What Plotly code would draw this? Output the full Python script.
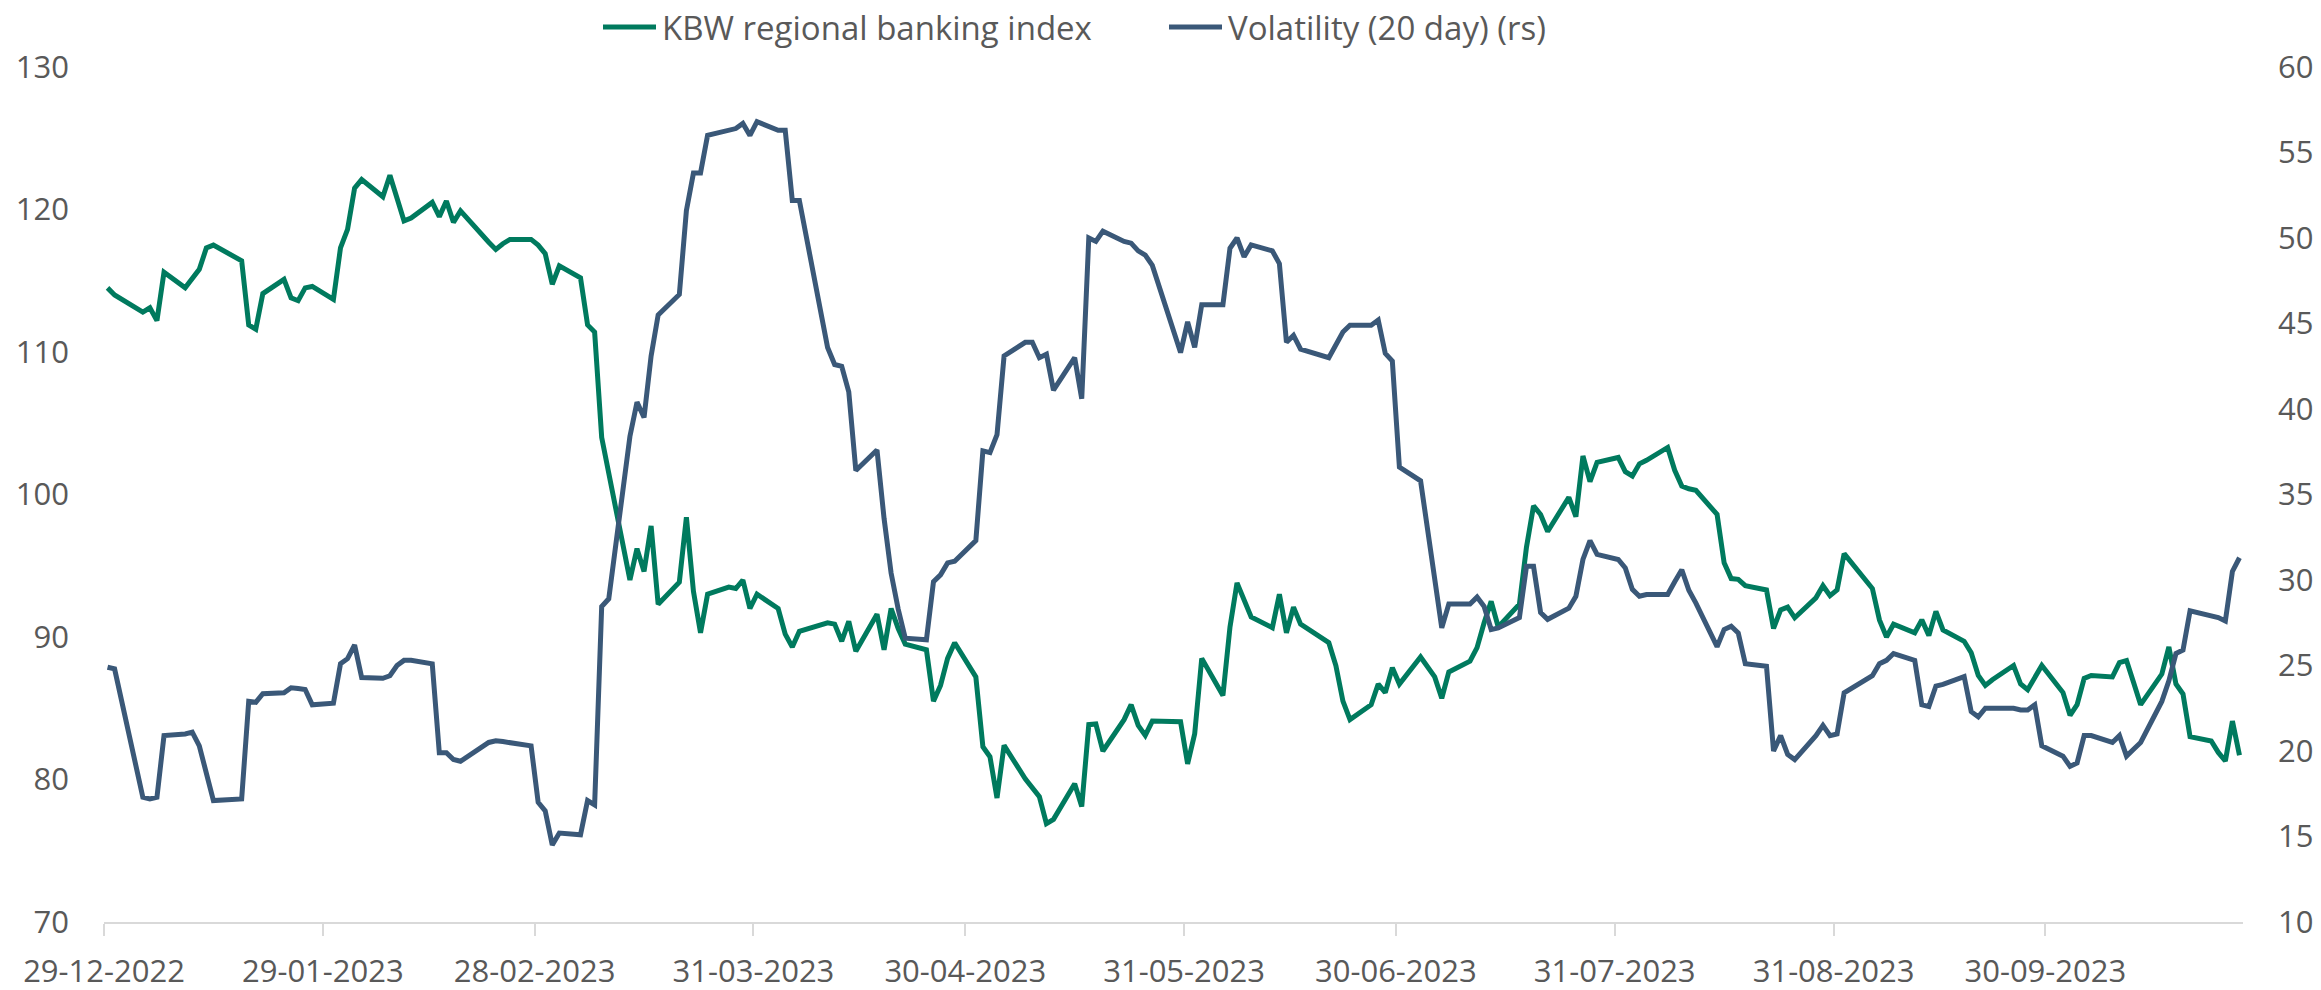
import plotly.graph_objects as go
import pandas as pd

# ---- data ----
dates = [
    # Dec 2022
    "2022-12-29", "2022-12-30",
    # Jan 2023
    "2023-01-03", "2023-01-04", "2023-01-05", "2023-01-06", "2023-01-09", "2023-01-10", "2023-01-11",
    "2023-01-12", "2023-01-13", "2023-01-17", "2023-01-18", "2023-01-19", "2023-01-20", "2023-01-23",
    "2023-01-24", "2023-01-25", "2023-01-26", "2023-01-27", "2023-01-30", "2023-01-31",
    # Feb
    "2023-02-01", "2023-02-02", "2023-02-03", "2023-02-06", "2023-02-07", "2023-02-08", "2023-02-09",
    "2023-02-10", "2023-02-13", "2023-02-14", "2023-02-15", "2023-02-16", "2023-02-17", "2023-02-21",
    "2023-02-22", "2023-02-23", "2023-02-24", "2023-02-27", "2023-02-28",
    # Mar
    "2023-03-01", "2023-03-02", "2023-03-03", "2023-03-06", "2023-03-07", "2023-03-08", "2023-03-09",
    "2023-03-10", "2023-03-13", "2023-03-14", "2023-03-15", "2023-03-16", "2023-03-17", "2023-03-20",
    "2023-03-21", "2023-03-22", "2023-03-23", "2023-03-24", "2023-03-27", "2023-03-28", "2023-03-29",
    "2023-03-30", "2023-03-31",
    # Apr
    "2023-04-03", "2023-04-04", "2023-04-05", "2023-04-06", "2023-04-10", "2023-04-11", "2023-04-12",
    "2023-04-13", "2023-04-14", "2023-04-17", "2023-04-18", "2023-04-19", "2023-04-20", "2023-04-21",
    "2023-04-24", "2023-04-25", "2023-04-26", "2023-04-27", "2023-04-28",
    # May
    "2023-05-01", "2023-05-02", "2023-05-03", "2023-05-04", "2023-05-05", "2023-05-08", "2023-05-09",
    "2023-05-10", "2023-05-11", "2023-05-12", "2023-05-15", "2023-05-16", "2023-05-17", "2023-05-18",
    "2023-05-19", "2023-05-22", "2023-05-23", "2023-05-24", "2023-05-25", "2023-05-26", "2023-05-30",
    "2023-05-31",
    # Jun
    "2023-06-01", "2023-06-02", "2023-06-05", "2023-06-06", "2023-06-07", "2023-06-08", "2023-06-09",
    "2023-06-12", "2023-06-13", "2023-06-14", "2023-06-15", "2023-06-16", "2023-06-20", "2023-06-21",
    "2023-06-22", "2023-06-23", "2023-06-26", "2023-06-27", "2023-06-28", "2023-06-29", "2023-06-30",
    # Jul
    "2023-07-03", "2023-07-05", "2023-07-06", "2023-07-07", "2023-07-10", "2023-07-11", "2023-07-12",
    "2023-07-13", "2023-07-14", "2023-07-17", "2023-07-18", "2023-07-19", "2023-07-20", "2023-07-21",
    "2023-07-24", "2023-07-25", "2023-07-26", "2023-07-27", "2023-07-28", "2023-07-31",
    # Aug
    "2023-08-01", "2023-08-02", "2023-08-03", "2023-08-04", "2023-08-07", "2023-08-08", "2023-08-09",
    "2023-08-10", "2023-08-11", "2023-08-14", "2023-08-15", "2023-08-16", "2023-08-17", "2023-08-18",
    "2023-08-21", "2023-08-22", "2023-08-23", "2023-08-24", "2023-08-25", "2023-08-28", "2023-08-29",
    "2023-08-30", "2023-08-31",
    # Sep
    "2023-09-01", "2023-09-05", "2023-09-06", "2023-09-07", "2023-09-08", "2023-09-11", "2023-09-12",
    "2023-09-13", "2023-09-14", "2023-09-15", "2023-09-18", "2023-09-19", "2023-09-20", "2023-09-21",
    "2023-09-22", "2023-09-25", "2023-09-26", "2023-09-27", "2023-09-28", "2023-09-29",
    # Oct
    "2023-10-02", "2023-10-03", "2023-10-04", "2023-10-05", "2023-10-06", "2023-10-09", "2023-10-10",
    "2023-10-11", "2023-10-12", "2023-10-13", "2023-10-16", "2023-10-17", "2023-10-18", "2023-10-19",
    "2023-10-20", "2023-10-23", "2023-10-24", "2023-10-25", "2023-10-26", "2023-10-27",
]

kbw_index = [
    114.5, 114.0,
    112.8, 113.1, 112.2, 115.6, 114.5, 115.2, 115.8, 117.3, 117.5, 116.4, 111.9, 111.6, 114.1, 115.1,
    113.8, 113.6, 114.5, 114.6, 113.7, 117.3,
    118.6, 121.5, 122.1, 120.9, 122.4, 120.8, 119.2, 119.4, 120.5, 119.5, 120.6, 119.1, 119.9, 117.7,
    117.2, 117.6, 117.9, 117.9, 117.5,
    116.9, 114.75, 116.05, 115.2, 111.9, 111.4, 104.0, 101.5, 94.0, 96.2, 94.6, 97.8, 92.3, 93.85,
    98.4, 93.2, 90.3, 93.0, 93.5, 93.4, 94.0, 92.0, 93.0,
    92.0, 90.2, 89.3, 90.4, 91.0, 90.9, 89.7, 91.1, 89.0, 91.6, 89.1, 92.0, 90.6, 89.5,
    89.1, 85.5, 86.6, 88.5, 89.6,
    87.2, 82.3, 81.6, 78.7, 82.4, 80.05, 79.4, 78.8, 76.9, 77.2, 79.7, 78.1, 83.85, 83.9,
    82.0, 84.2, 85.25, 83.8, 83.1, 84.1, 84.05, 81.1,
    83.2, 88.5, 85.9, 90.7, 93.8, 92.6, 91.4, 90.65, 93.0, 90.3, 92.1, 90.9, 89.6, 88.0,
    85.5, 84.2, 85.25, 86.7, 86.1, 87.85, 86.7,
    88.6, 87.2, 85.7, 87.55, 88.3, 89.25, 91.0, 92.5, 90.7, 92.3, 96.3, 99.2, 98.6, 97.4,
    99.8, 98.45, 102.7, 100.9, 102.25, 102.6,
    101.6, 101.3, 102.15, 102.4, 103.3, 101.7, 100.6, 100.4, 100.3, 98.6, 95.2, 94.1, 94.05, 93.6,
    93.3, 90.6, 91.9, 92.1, 91.35, 92.75, 93.6, 92.9, 93.3,
    95.85, 93.4, 91.2, 90.0, 90.9, 90.3, 91.2, 90.1, 91.8, 90.5, 89.7, 88.9, 87.3, 86.6,
    87.0, 88.0, 86.7, 86.3, 87.2, 88.0,
    86.1, 84.5, 85.25, 87.1, 87.3, 87.2, 88.2, 88.35, 86.8, 85.25, 87.4, 89.3, 86.7, 86.0,
    83.0, 82.7, 81.9, 81.3, 84.1, 81.7,
]

volatility_20d = [
    24.9, 24.8,
    17.3, 17.2, 17.3, 20.9, 21.0, 21.1, 20.3, 18.8, 17.1, 17.2, 22.9, 22.85, 23.35, 23.4,
    23.7, 23.65, 23.6, 22.7, 22.8, 25.1,
    25.4, 26.2, 24.3, 24.25, 24.4, 25.0, 25.3, 25.3, 25.1, 19.9, 19.9, 19.5, 19.4, 20.5,
    20.6, 20.55, 20.5, 20.3, 17.0,
    16.5, 14.5, 15.2, 15.1, 17.1, 16.85, 28.45, 28.9, 38.4, 40.4, 39.5, 43.1, 45.5, 46.7,
    51.6, 53.8, 53.8, 56.0, 56.3, 56.4, 56.7, 56.0, 56.8,
    56.3, 56.3, 52.2, 52.2, 43.6, 42.6, 42.5, 41.0, 36.4, 37.6, 33.6, 30.4, 28.3, 26.6,
    26.5, 29.9, 30.3, 31.0, 31.1,
    32.3, 37.55, 37.45, 38.5, 43.1, 43.9, 43.9, 43.0, 43.2, 41.1, 43.0, 40.6, 50.0, 49.8,
    50.4, 49.8, 49.7, 49.25, 49.0, 48.4, 43.3, 45.1,
    43.6, 46.1, 46.1, 49.4, 50.0, 48.9, 49.6, 49.25, 48.5, 43.9, 44.3, 43.5, 43.0, 43.75,
    44.5, 44.9, 44.9, 45.2, 43.25, 42.8, 36.6,
    35.8, 29.8, 27.2, 28.6, 28.6, 29.0, 28.45, 27.1, 27.2, 27.8, 30.8, 30.8, 28.1, 27.7,
    28.35, 29.05, 31.2, 32.3, 31.5, 31.2,
    30.7, 29.45, 29.05, 29.15, 29.15, 29.9, 30.6, 29.4, 28.65, 26.1, 27.1, 27.3, 26.9, 25.1,
    24.95, 20.0, 20.9, 19.8, 19.5, 20.9, 21.5, 20.9, 21.0,
    23.4, 24.4, 25.1, 25.3, 25.7, 25.3, 22.7, 22.6, 23.8, 23.9, 24.35, 22.3, 22.0, 22.5,
    22.5, 22.5, 22.4, 22.4, 22.7, 20.3,
    19.7, 19.1, 19.3, 20.9, 20.9, 20.5, 20.9, 19.7, 20.1, 20.5, 22.9, 24.1, 25.7, 25.9,
    28.2, 27.9, 27.8, 27.6, 30.5, 31.3,
]

series_names = ["KBW regional banking index", "Volatility (20 day) (rs)"]

tick_dates = ["2022-12-29", "2023-01-29", "2023-02-28", "2023-03-31", "2023-04-30",
              "2023-05-31", "2023-06-30", "2023-07-31", "2023-08-31", "2023-09-30"]
tick_labels = ["29-12-2022", "29-01-2023", "28-02-2023", "31-03-2023", "30-04-2023",
               "31-05-2023", "30-06-2023", "31-07-2023", "31-08-2023", "30-09-2023"]
left_ticks = [70, 80, 90, 100, 110, 120, 130]
right_ticks = [10, 15, 20, 25, 30, 35, 40, 45, 50, 55, 60]

# ---- styling ----
GREEN = "#007A5E"
NAVY = "#3A5878"
TEXT = "#595959"
AXIS = "#D9D9D9"
FONT = "Open Sans"
W, H = 2321, 990
ML, MR, MT, MB = 104, 78, 67, 68
PW, PH = W - ML - MR, H - MT - MB


def px_to_paper_x(px):
    return (px - ML) / PW


def px_to_paper_y(py):
    return (H - MB - py) / PH


half_day = pd.Timedelta(hours=12)
x_dates = pd.to_datetime(dates)
tick_pos = [d - half_day for d in pd.to_datetime(tick_dates)]
x_range = [x_dates[0] - half_day, x_dates[-1] + half_day]

fig = go.Figure()
fig.add_trace(go.Scatter(x=x_dates, y=kbw_index, name=series_names[0],
                         mode="lines", line=dict(color=GREEN, width=5), yaxis="y"))
fig.add_trace(go.Scatter(x=x_dates, y=volatility_20d, name=series_names[1],
                         mode="lines", line=dict(color=NAVY, width=5), yaxis="y2"))

# ---- custom legend (line sample + label) at the top ----
legend_y = px_to_paper_y(27)
legend_items = [
    (series_names[0], GREEN, 603, 656, 660),
    (series_names[1], NAVY, 1169, 1222, 1226),
]
for name, color, x0, x1, xt in legend_items:
    fig.add_shape(type="line", xref="paper", yref="paper",
                  x0=px_to_paper_x(x0), x1=px_to_paper_x(x1), y0=legend_y, y1=legend_y,
                  line=dict(color=color, width=5))
    fig.add_annotation(xref="paper", yref="paper", x=px_to_paper_x(xt), y=legend_y,
                       text=name, showarrow=False, xanchor="left", yanchor="middle",
                       font=dict(family=FONT, size=33, color=TEXT))

fig.update_layout(
    width=W, height=H,
    margin=dict(l=ML, r=MR, t=MT, b=MB, autoexpand=False),
    paper_bgcolor="white", plot_bgcolor="white",
    font=dict(family=FONT, size=31, color=TEXT),
    showlegend=False,
    xaxis=dict(type="date", range=x_range, tickvals=tick_pos, ticktext=tick_labels,
               showgrid=False, zeroline=False, showline=True, linecolor=AXIS, linewidth=2,
               ticks="outside", ticklen=12, tickwidth=2, tickcolor=AXIS,
               tickfont=dict(family=FONT, size=31, color=TEXT), ticklabelstandoff=9,
               automargin=False),
    yaxis=dict(range=[70, 130], tickvals=left_ticks, showgrid=False, zeroline=False,
               showline=False, ticks="", tickfont=dict(family=FONT, size=31, color=TEXT),
               ticklabelstandoff=34, automargin=False),
    yaxis2=dict(range=[10, 60], tickvals=right_ticks, overlaying="y", side="right",
                showgrid=False, zeroline=False, showline=False, ticks="",
                tickfont=dict(family=FONT, size=31, color=TEXT),
                ticklabelstandoff=34, automargin=False),
)

fig.write_html("out.html", config={"displayModeBar": False},
               post_script="document.body.style.margin='0';")
